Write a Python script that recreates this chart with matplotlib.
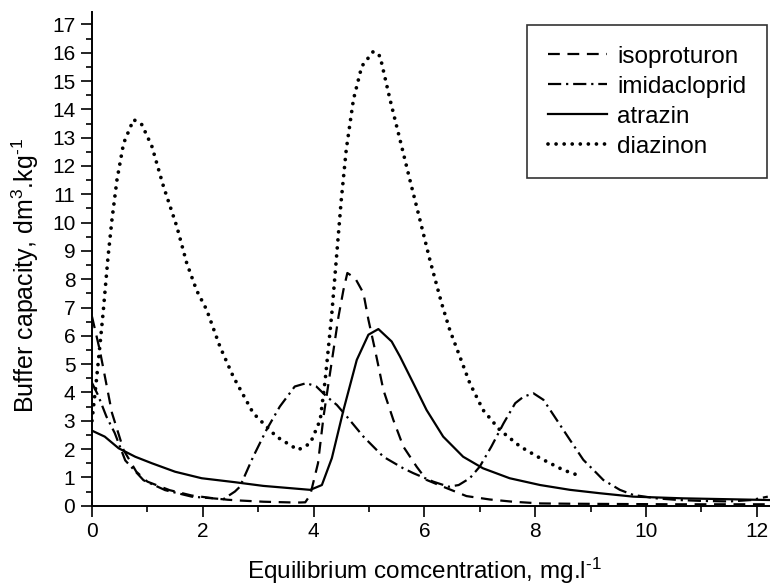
import matplotlib
matplotlib.use("Agg")
import matplotlib.pyplot as plt
from matplotlib.ticker import MultipleLocator

plt.rcParams['font.family'] = ['Liberation Sans', 'DejaVu Sans']
plt.rcParams['mathtext.fontset'] = 'custom'
plt.rcParams['mathtext.rm'] = 'Liberation Sans'
plt.rcParams['mathtext.it'] = 'Liberation Sans:italic'
plt.rcParams['mathtext.bf'] = 'Liberation Sans:bold'
plt.rcParams['lines.scale_dashes'] = False

# ---- data ----
iso_x = [0, 0.14, 0.36, 0.57, 0.8, 1.0, 1.4, 1.8, 2.2, 2.45, 2.7, 3.1, 3.7, 3.85, 3.94, 4.08,
         4.18, 4.27, 4.36, 4.45, 4.54, 4.61, 4.75, 4.9, 4.99, 5.11, 5.26, 5.44, 5.62, 5.86,
         6.04, 6.34, 6.76, 7.18, 7.6, 8.1, 8.6, 9.5, 10.5, 11.5, 12.2]
iso_y = [6.68, 5.5, 3.28, 1.97, 1.2, 0.85, 0.55, 0.36, 0.26, 0.21, 0.18, 0.14, 0.11, 0.12, 0.38, 1.5,
         3.15, 4.33, 5.5, 6.68, 7.63, 8.22, 8.04, 7.51, 6.57, 5.5, 4.09, 3.03, 2.09, 1.38,
         0.91, 0.67, 0.34, 0.22, 0.14, 0.08, 0.07, 0.06, 0.05, 0.05, 0.05]

imi_x = [0, 0.11, 0.26, 0.41, 0.6, 0.93, 1.32, 1.8, 2.37, 2.58, 2.67, 2.91, 3.15, 3.39, 3.66,
         3.87, 4.05, 4.24, 4.42, 4.6, 4.9, 5.26, 5.62, 5.8, 6.16, 6.44, 6.62, 6.82, 7.0, 7.21,
         7.43, 7.64, 7.79, 7.97, 8.15, 8.39, 8.63, 8.87, 9.11, 9.23, 9.53, 9.77, 10.19, 10.6,
         11.0, 11.5, 11.9, 12.2]
imi_y = [4.34, 3.9, 3.15, 2.57, 1.6, 0.9, 0.55, 0.32, 0.23, 0.5, 0.67, 1.73, 2.68, 3.5, 4.21,
         4.33, 4.21, 3.85, 3.56, 3.15, 2.44, 1.73, 1.32, 1.15, 0.85, 0.67, 0.73, 0.97, 1.38, 2.09,
         2.91, 3.62, 3.85, 3.97, 3.74, 3.03, 2.32, 1.62, 1.15, 0.91, 0.56, 0.38, 0.26, 0.2,
         0.17, 0.15, 0.2, 0.32]

atr_x = [0, 0.23, 0.48, 0.78, 1.08, 1.5, 1.98, 2.58, 3.09, 3.94, 4.15, 4.33, 4.54, 4.78, 4.99,
         5.17, 5.41, 5.56, 5.8, 6.04, 6.34, 6.7, 7.06, 7.54, 8.09, 8.63, 9.17, 9.77, 10.67, 12.24]
atr_y = [2.65, 2.44, 2.03, 1.73, 1.5, 1.2, 0.97, 0.83, 0.7, 0.56, 0.73, 1.68, 3.38, 5.15, 6.04,
         6.24, 5.8, 5.27, 4.33, 3.38, 2.44, 1.73, 1.32, 0.97, 0.73, 0.56, 0.44, 0.32, 0.26, 0.2]

dia_x = [0, 0.08, 0.14, 0.2, 0.29, 0.36, 0.45, 0.57, 0.75, 0.9, 1.08, 1.29, 1.53, 1.71, 1.89,
         2.07, 2.31, 2.55, 2.91, 3.33, 3.72, 3.94, 4.12, 4.21, 4.33, 4.45, 4.5, 4.59, 4.72, 4.87,
         5.08, 5.2, 5.38, 5.56, 5.74, 5.92, 6.1, 6.31, 6.46, 6.64, 6.82, 7.06, 7.36, 7.73, 8.09,
         8.51, 8.84]
dia_y = [3.0, 4.44, 5.6, 6.8, 8.8, 10.1, 11.5, 12.8, 13.64, 13.46, 12.7, 11.28, 9.87, 8.57, 7.6,
         6.92, 5.62, 4.56, 3.27, 2.44, 1.97, 2.2, 3.03, 4.44, 6.8, 9.63, 10.8, 12.58, 14.35, 15.52,
         16.05, 15.88, 14.35, 12.93, 11.5, 10.1, 8.68, 7.16, 6.2, 5.27, 4.33, 3.38, 2.68, 2.09, 1.68,
         1.26, 1.03]

labels = ['isoproturon', 'imidacloprid', 'atrazin', 'diazinon']
xlabel = r'Equilibrium comcentration, mg.l$^{\text{-1}}$'
ylabel = r'Buffer capacity, dm$^{\text{3}}$.kg$^{\text{-1}}$'
xticks = [0, 2, 4, 6, 8, 10, 12]
yticks = list(range(0, 18))

# ---- figure ----
W, H = 770, 587
fig = plt.figure(figsize=(W / 100, H / 100), dpi=100)
ax = fig.add_axes([92 / W, 1 - 505.7 / H, (W - 92) / W, (505.7 - 11.7) / H])

lw = 1.6
ax.plot(iso_x, iso_y, color='black', lw=lw, dashes=(8.5, 5.5), label=labels[0])
ax.plot(imi_x, imi_y, color='black', lw=lw, dashes=(9.5, 3.5, 1.6, 3.5), label=labels[1])
ax.plot(atr_x, atr_y, color='black', lw=lw, label=labels[2])
ax.plot(dia_x, dia_y, color='black', lw=2.7, dashes=(0.01, 5.8), dash_capstyle='round',
        label=labels[3])

ax.set_xlim(0, 12.24)
ax.set_ylim(0, 17.45)
ax.set_xticks(xticks)
ax.set_yticks(yticks)
ax.xaxis.set_minor_locator(MultipleLocator(1))
ax.yaxis.set_minor_locator(MultipleLocator(0.5))
ax.spines['top'].set_visible(False)
ax.spines['right'].set_visible(False)
for s in ('left', 'bottom'):
    ax.spines[s].set_linewidth(1.4)
ax.tick_params(which='major', direction='out', length=8, width=1.2, labelsize=15, pad=4)
ax.tick_params(which='minor', direction='out', length=4.5, width=1.2)

fig.text(247 / W, 1 - 579 / H, xlabel, fontsize=17.5, ha='left', va='baseline')
fig.text(25 / W, 1 - 276 / H, ylabel, fontsize=18, ha='center', va='center', rotation=90)

leg = ax.legend(loc='upper right', bbox_to_anchor=(766.7 / W, 1 - 25 / H),
                bbox_transform=fig.transFigure, fontsize=17.5, frameon=True, fancybox=False,
                edgecolor='#333333', framealpha=1, handlelength=2.45, handletextpad=0.4,
                labelspacing=0.33, borderpad=0.85, borderaxespad=0)
leg.get_frame().set_linewidth(1.2)

fig.savefig('out.png', dpi=100)
